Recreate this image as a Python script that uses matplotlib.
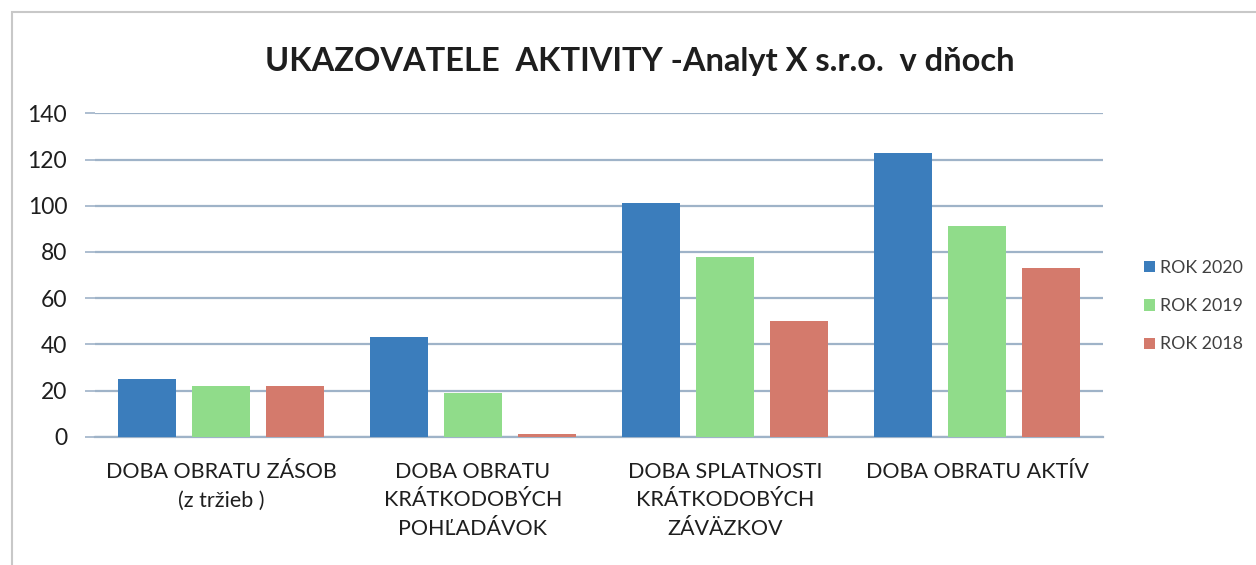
import matplotlib
matplotlib.use("Agg")
import matplotlib.pyplot as plt
import numpy as np
from matplotlib.patches import Rectangle

categories = ["DOBA OBRATU ZÁSOB\n(z tržieb )",
              "DOBA OBRATU\nKRÁTKODOBÝCH\nPOHĽADÁVOK",
              "DOBA SPLATNOSTI\nKRÁTKODOBÝCH\nZÁVÄZKOV",
              "DOBA OBRATU AKTÍV"]
series_names = ["ROK 2020", "ROK 2019", "ROK 2018"]
rok_2020 = [25, 43, 101, 123]
rok_2019 = [22, 19, 78, 91]
rok_2018 = [22, 1, 50, 73]
y_ticks = [0, 20, 40, 60, 80, 100, 120, 140]
title = "UKAZOVATELE  AKTIVITY -Analyt X s.r.o.  v dňoch"

colors = ["#3b7dbc", "#90dc8a", "#d47a6c"]
FONT = ["Lato", "DejaVu Sans"]
plt.rcParams['font.family'] = FONT
txt_color = "#1e1e1e"

W, H = 1256, 565
fig = plt.figure(figsize=(W / 100, H / 100), dpi=100)
fig.patch.set_facecolor("white")

# frame of the chart area (scan)
fig.add_artist(Rectangle((12 / W, -0.1), 1.2, 1 - 12 / H + 0.1, transform=fig.transFigure,
                         fill=False, edgecolor="#c8c8c8", linewidth=1.5))

ax = fig.add_axes([95 / W, 1 - 436.7 / H, (1103 - 95) / W, (436.7 - 113.3) / H])
x = np.arange(len(categories))
bw = 0.23
off = 0.294
for i, (vals, name) in enumerate(zip([rok_2020, rok_2019, rok_2018], series_names)):
    ax.bar(x + (i - 1) * off, vals, width=bw, color=colors[i], label=name, zorder=3)

ax.set_xlim(-0.5, len(categories) - 0.5)
ax.set_ylim(0, 140)
ax.set_yticks(y_ticks)
ax.yaxis.grid(True, color="#9fb3c8", linewidth=1.6, zorder=0)
for s in ["top", "right", "left"]:
    ax.spines[s].set_visible(False)
ax.spines["bottom"].set_color("#9fb3c8")
ax.spines["bottom"].set_linewidth(1.6)
ax.tick_params(axis="y", length=7, width=1.2, color="#9fb3c8", labelsize=16.5,
               labelcolor=txt_color, pad=13)
ax.tick_params(axis="x", length=0, pad=18)
ax.set_xticks(x)
ax.set_xticklabels(categories, fontsize=15.5, color=txt_color, linespacing=1.55, va="top")

fig.text(640 / W, 1 - 61 / H, title, ha="center", va="center", fontsize=23.5,
         fontweight="bold", color=txt_color)

leg = fig.legend(loc="upper left", bbox_to_anchor=(1128 / W, 1 - 244 / H), frameon=False,
                 fontsize=12.8, handlelength=0.6, handleheight=0.6, handletextpad=0.3,
                 labelspacing=1.25, labelcolor="#404040")

fig.savefig("out.png", dpi=100, facecolor="white")
